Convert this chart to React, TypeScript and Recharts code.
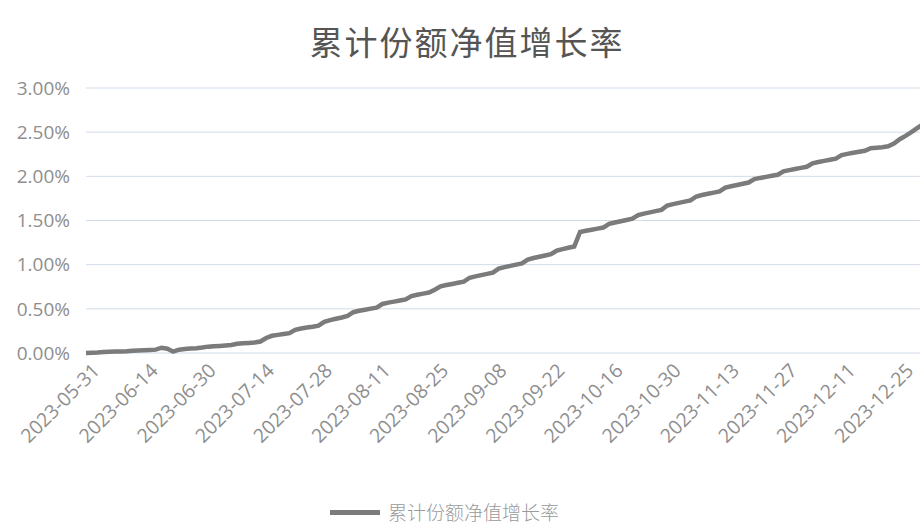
import { LineChart, Line, XAxis, YAxis, CartesianGrid } from "recharts"

// trading days, 2023-05-31 .. 2023-12-29
const dates = [
  "2023-05-31",
  "2023-06-01", "2023-06-02", "2023-06-05", "2023-06-06", "2023-06-07", "2023-06-08", "2023-06-09",
  "2023-06-12", "2023-06-13", "2023-06-14", "2023-06-15", "2023-06-16", "2023-06-19", "2023-06-20",
  "2023-06-21", "2023-06-26", "2023-06-27", "2023-06-28", "2023-06-29", "2023-06-30",
  "2023-07-03", "2023-07-04", "2023-07-05", "2023-07-06", "2023-07-07", "2023-07-10", "2023-07-11",
  "2023-07-12", "2023-07-13", "2023-07-14", "2023-07-17", "2023-07-18", "2023-07-19", "2023-07-20",
  "2023-07-21", "2023-07-24", "2023-07-25", "2023-07-26", "2023-07-27", "2023-07-28", "2023-07-31",
  "2023-08-01", "2023-08-02", "2023-08-03", "2023-08-04", "2023-08-07", "2023-08-08", "2023-08-09",
  "2023-08-10", "2023-08-11", "2023-08-14", "2023-08-15", "2023-08-16", "2023-08-17", "2023-08-18",
  "2023-08-21", "2023-08-22", "2023-08-23", "2023-08-24", "2023-08-25", "2023-08-28", "2023-08-29",
  "2023-08-30", "2023-08-31",
  "2023-09-01", "2023-09-04", "2023-09-05", "2023-09-06", "2023-09-07", "2023-09-08", "2023-09-11",
  "2023-09-12", "2023-09-13", "2023-09-14", "2023-09-15", "2023-09-18", "2023-09-19", "2023-09-20",
  "2023-09-21", "2023-09-22", "2023-09-25", "2023-09-26", "2023-09-27", "2023-09-28",
  "2023-10-09", "2023-10-10", "2023-10-11", "2023-10-12", "2023-10-13", "2023-10-16", "2023-10-17",
  "2023-10-18", "2023-10-19", "2023-10-20", "2023-10-23", "2023-10-24", "2023-10-25", "2023-10-26",
  "2023-10-27", "2023-10-30", "2023-10-31",
  "2023-11-01", "2023-11-02", "2023-11-03", "2023-11-06", "2023-11-07", "2023-11-08", "2023-11-09",
  "2023-11-10", "2023-11-13", "2023-11-14", "2023-11-15", "2023-11-16", "2023-11-17", "2023-11-20",
  "2023-11-21", "2023-11-22", "2023-11-23", "2023-11-24", "2023-11-27", "2023-11-28", "2023-11-29",
  "2023-11-30",
  "2023-12-01", "2023-12-04", "2023-12-05", "2023-12-06", "2023-12-07", "2023-12-08", "2023-12-11",
  "2023-12-12", "2023-12-13", "2023-12-14", "2023-12-15", "2023-12-18", "2023-12-19", "2023-12-20",
  "2023-12-21", "2023-12-22", "2023-12-25", "2023-12-26", "2023-12-27", "2023-12-28", "2023-12-29",
]

// 累计份额净值增长率, in %
const growth = [
  0.000,
  0.003, 0.006, 0.012, 0.014, 0.016, 0.018, 0.020,
  0.026, 0.028, 0.031, 0.034, 0.038, 0.060, 0.048,
  0.015, 0.038, 0.044, 0.050, 0.055, 0.062,
  0.072, 0.076, 0.080, 0.085, 0.090, 0.104, 0.110,
  0.114, 0.118, 0.130, 0.170, 0.195, 0.205, 0.215,
  0.225, 0.262, 0.278, 0.288, 0.298, 0.310, 0.352,
  0.372, 0.388, 0.402, 0.420, 0.462, 0.478, 0.490,
  0.502, 0.514, 0.555, 0.570, 0.582, 0.594, 0.606,
  0.645, 0.660, 0.672, 0.684, 0.716, 0.755, 0.770,
  0.782, 0.795,
  0.808, 0.852, 0.868, 0.882, 0.896, 0.910, 0.955,
  0.972, 0.986, 1.000, 1.014, 1.058, 1.075, 1.090,
  1.104, 1.118, 1.160, 1.176, 1.192, 1.205,
  1.370, 1.384, 1.396, 1.408, 1.420, 1.462, 1.478,
  1.492, 1.506, 1.520, 1.562, 1.578, 1.592, 1.606,
  1.620, 1.670, 1.686,
  1.700, 1.714, 1.728, 1.772, 1.788, 1.802, 1.816,
  1.830, 1.872, 1.888, 1.902, 1.916, 1.930, 1.968,
  1.982, 1.994, 2.006, 2.018, 2.056, 2.070, 2.083,
  2.096,
  2.108, 2.148, 2.162, 2.175, 2.188, 2.200, 2.240,
  2.254, 2.266, 2.278, 2.290, 2.318, 2.324, 2.330,
  2.340, 2.370, 2.420, 2.458, 2.500, 2.545, 2.590,
]

const yTicks = [0, 0.5, 1, 1.5, 2, 2.5, 3]

const TITLE = "累计份额净值增长率"
const LINE_COLOR = "#7b7b7b"
const LABEL_COLOR = "#8e8e8e"

const data = dates.map((d, i) => ({ date: d, value: growth[i] }))

function DateTick({ x, y, payload }: { x?: number; y?: number; payload?: { value: string } }) {
  if (!payload) return null
  return (
    <g transform={`translate(${(x ?? 0) + 10},${(y ?? 0) + 6})`}>
      <text
        textAnchor="end"
        transform="rotate(-45)"
        fill={LABEL_COLOR}
        fontSize={19.5}
        fontFamily="'Open Sans', sans-serif"
        dy={7}
      >
        {payload.value}
      </text>
    </g>
  )
}

export default function App() {
  return (
    <div
      style={{
        position: "absolute",
        left: 0,
        top: 0,
        width: 920,
        height: 525,
        overflow: "hidden",
        background: "#fff",
      }}
    >
      <div
        style={{
          position: "absolute",
          left: 0,
          top: 17,
          width: 934,
          textAlign: "center",
          fontFamily: "'Noto Sans CJK SC', sans-serif",
          fontSize: 33,
          color: "#555",
          letterSpacing: 2,
        }}
      >
        {TITLE}
      </div>
      <LineChart
        width={940}
        height={525}
        data={data}
        margin={{ top: 88, right: 17, left: 0, bottom: 0 }}
      >
        <CartesianGrid vertical={false} stroke="#d0dbe9" strokeWidth={1} />
        <XAxis
          dataKey="date"
          interval={9}
          axisLine={false}
          tickLine={false}
          height={172}
          tick={<DateTick />}
        />
        <YAxis
          domain={[0, 3]}
          ticks={yTicks}
          width={86}
          axisLine={false}
          tickLine={false}
          tickMargin={10}
          tickFormatter={(v: number) => `${v.toFixed(2)}%`}
          tick={{ fill: LABEL_COLOR, fontSize: 19, fontFamily: "'Open Sans', sans-serif" }}
        />
        <Line
          type="linear"
          dataKey="value"
          stroke={LINE_COLOR}
          strokeWidth={4.5}
          dot={false}
          isAnimationActive={false}
        />
      </LineChart>
      <div
        style={{
          position: "absolute",
          left: 330,
          top: 501,
          height: 22,
          lineHeight: "22px",
          display: "flex",
          alignItems: "center",
          fontFamily: "'Noto Sans CJK SC', sans-serif",
          fontWeight: 300,
          fontSize: 19,
          color: "#9a9a9a",
        }}
      >
        <span style={{ display: "inline-block", width: 50, height: 5, background: LINE_COLOR, marginRight: 8 }} />
        {TITLE}
      </div>
    </div>
  )
}
